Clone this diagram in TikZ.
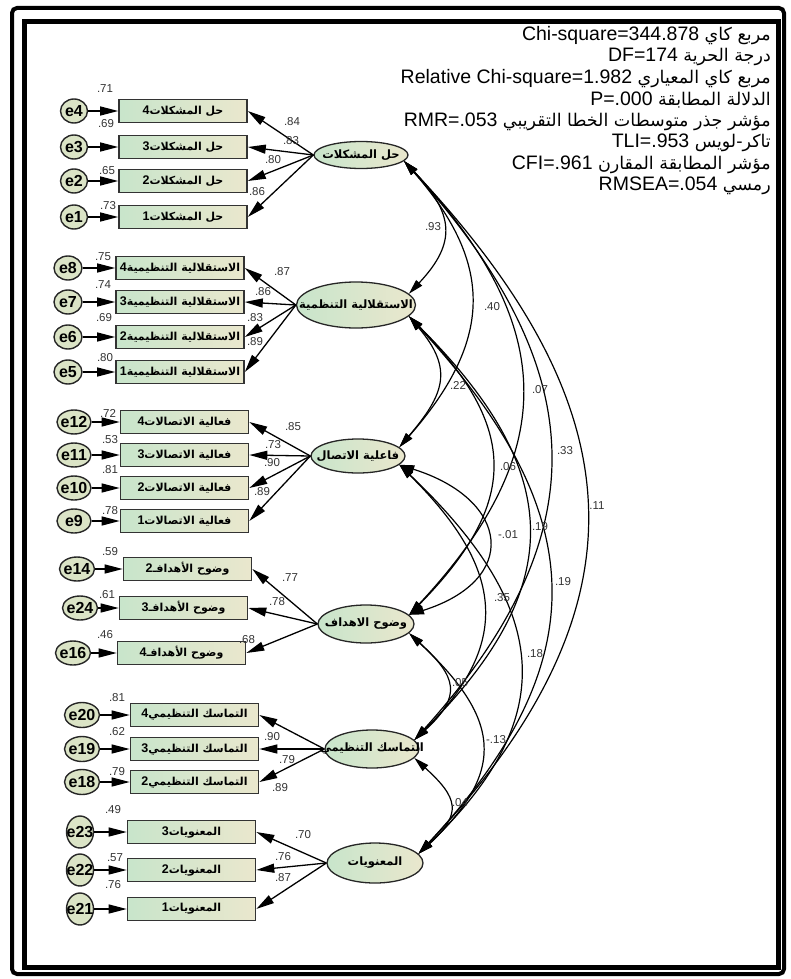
\documentclass[tikz,border=0pt]{standalone}
\usepackage{fontspec}
\setmainfont{Liberation Sans}
\newfontfamily\arabicfont[Script=Arabic]{DejaVu Sans}
\TeXXeTstate=1
\usetikzlibrary{arrows.meta,shapes.geometric}
\definecolor{amosgreen}{RGB}{200,229,203}
\definecolor{amosbeige}{RGB}{234,231,205}
\definecolor{errfill}{RGB}{219,228,198}
\newcommand{\dg}[1]{{\fontsize{12.5}{12}\selectfont\bfseries #1}}

\begin{document}
\begin{tikzpicture}[x=1pt,y=-1pt,
    obs/.style={draw=black!80,line width=1.6pt,left color=amosgreen,right color=amosbeige,
      minimum width=128pt,minimum height=23pt,inner sep=0pt,font=\fontsize{11}{12}\selectfont},
    lat/.style={ellipse,draw=black!85,line width=1.3pt,left color=amosgreen,right color=amosbeige,inner sep=0pt},
    err/.style={ellipse,draw=black!85,line width=1.4pt,fill=errfill,inner sep=0pt},
    errtxt/.style={font=\fontsize{16}{18}\selectfont\bfseries,inner sep=0pt},
    lattxt/.style={font=\fontsize{11.5}{14}\selectfont,inner sep=0pt},
    num/.style={font=\fontsize{11.5}{12}\selectfont,text=black!80,inner sep=0pt},
    stat/.style={anchor=east,font=\fontsize{19.5}{20}\selectfont,inner sep=0pt},
    arr/.style={line width=1.3pt,-{Triangle[length=18pt,width=9pt]}},
    cov/.style={line width=1.2pt,{Triangle[length=15pt,width=8pt]}-{Triangle[length=15pt,width=8pt]}}]
\useasboundingbox (0,0) rectangle (790,979);

% frame
\draw[line width=4pt,rounded corners=5pt] (12,8) rectangle (784,974);
\draw[line width=4.5pt] (24.5,21.5) rectangle (778.5,967.5);

% fit indices
\node[stat] (fit1) at (771,36) {Chi-square=344.878 {\arabicfont\fontsize{17.5}{20}\selectfont\beginR مربع كاي\endR}};
\node[stat] (fit2) at (771,57.4) {DF=174 {\arabicfont\fontsize{17.5}{20}\selectfont\beginR درجة الحرية\endR}};
\node[stat] (fit3) at (771,78.8) {Relative Chi-square=1.982 {\arabicfont\fontsize{17.5}{20}\selectfont\beginR مربع كاي المعياري\endR}};
\node[stat] (fit4) at (771,100.2) {P=.000 {\arabicfont\fontsize{17.5}{20}\selectfont\beginR الدلالة المطابقة\endR}};
\node[stat] (fit5) at (771,121.6) {RMR=.053 {\arabicfont\fontsize{17.5}{20}\selectfont\beginR مؤشر جذر متوسطات الخطا التقريبي\endR}};
\node[stat] (fit6) at (771,143) {TLI=.953 {\arabicfont\fontsize{17.5}{20}\selectfont\beginR تاكر{-}لويس\endR}};
\node[stat] (fit7) at (771,164.4) {CFI=.961 {\arabicfont\fontsize{17.5}{20}\selectfont\beginR مؤشر المطابقة المقارن\endR}};
\node[stat] (fit8) at (771,185.8) {RMSEA=.054 {\arabicfont\fontsize{17.5}{20}\selectfont\beginR رمسي\endR}};

% problem solving
\node[lat,minimum width=94pt,minimum height=27pt,
  label={[lattxt]center:{\arabicfont\bfseries\beginR حل المشكلات\endR}}] (pro) at (361,155) {};
\foreach \d/\ee/\y in {4/4/111,3/3/147,2/2/181,1/1/217}{
  \node[obs] (pro\d) at (183,\y) {\dg{\d}{\arabicfont\bfseries\beginR حل المشكلات\endR}};
  \node[err,minimum width=27pt,minimum height=24pt,label={[errtxt]center:e\ee}] (e\ee) at (74,\y) {};
  \draw[arr] (e\ee) -- (pro\d);
  \draw[arr] (pro.west) -- (pro\d.east);
}

% autonomy
\node[lat,minimum width=119pt,minimum height=46pt,
  label={[lattxt]center:{\arabicfont\bfseries\beginR الاستقلالية التنظمية\endR}}] (aut) at (356,305) {};
\foreach \d/\ee/\y in {4/8/268,3/7/302,2/6/337,1/5/372}{
  \node[obs] (aut\d) at (180,\y) {\dg{\d}{\arabicfont\bfseries\beginR الاستقلالية التنظيمية\endR}};
  \node[err,minimum width=28pt,minimum height=24pt,label={[errtxt]center:e\ee}] (e\ee) at (68,\y) {};
  \draw[arr] (e\ee) -- (aut\d);
  \draw[arr] (aut.west) -- (aut\d.east);
}

% communication
\node[lat,minimum width=94pt,minimum height=34pt,
  label={[lattxt]center:{\arabicfont\bfseries\beginR فاعلية الاتصال\endR}}] (com) at (358,456) {};
\foreach \d/\ee/\y in {4/12/422,3/11/455,2/10/488,1/9/521}{
  \node[obs] (com\d) at (184.5,\y) {\dg{\d}{\arabicfont\bfseries\beginR فعالية الاتصالات\endR}};
  \node[err,minimum width=34pt,minimum height=24pt,label={[errtxt]center:e\ee}] (e\ee) at (74,\y) {};
  \draw[arr] (e\ee) -- (com\d);
  \draw[arr] (com.west) -- (com\d.east);
}

% goals
\node[lat,minimum width=96pt,minimum height=38pt,
  label={[lattxt]center:{\arabicfont\bfseries\beginR وضوح الاهداف\endR}}] (goal) at (366,624) {};
\foreach \d/\ee/\x/\ex/\y in {2/14/187.5/77/569,3/24/183.5/80/608,4/16/181.5/73/653}{
  \node[obs] (goal\d) at (\x,\y) {\dg{\d}{\arabicfont\bfseries\beginR وضوح الأهدافـ\endR}};
  \node[err,minimum width=35pt,minimum height=24pt,label={[errtxt]center:e\ee}] (e\ee) at (\ex,\y) {};
  \draw[arr] (e\ee) -- (goal\d);
  \draw[arr] (goal.west) -- (goal\d.east);
}

% cohesion
\node[lat,minimum width=94pt,minimum height=38pt,
  label={[lattxt]center:{\arabicfont\bfseries\beginR التماسك التنظيمي\endR}}] (coh) at (372,749) {};
\foreach \d/\ee/\y in {4/20/715,3/19/749,2/18/782}{
  \node[obs] (coh\d) at (194.5,\y) {\dg{\d}{\arabicfont\bfseries\beginR التماسك التنظيمي\endR}};
  \node[err,minimum width=35pt,minimum height=25pt,label={[errtxt]center:e\ee}] (e\ee) at (82,\y) {};
  \draw[arr] (e\ee) -- (coh\d);
  \draw[arr] (coh.west) -- (coh\d.east);
}

% morale
\node[lat,minimum width=96pt,minimum height=40pt,
  label={[lattxt]center:{\arabicfont\bfseries\beginR المعنويات\endR}}] (mor) at (375,863) {};
\foreach \d/\ee/\y in {3/23/832,2/22/870,1/21/909}{
  \node[obs] (mor\d) at (191.5,\y) {\dg{\d}{\arabicfont\bfseries\beginR المعنويات\endR}};
  \node[err,minimum width=27pt,minimum height=32pt,label={[errtxt]center:e\ee}] (e\ee) at (80,\y) {};
  \draw[arr] (e\ee) -- (mor\d);
  \draw[arr] (mor.west) -- (mor\d.east);
}

% covariances
\foreach \a/\b/\k/\m/\sa/\sb in {pro/aut/49/52/-8/12, pro/com/92/105/-8/12, pro/goal/153/164/-8/12,
    pro/coh/187/208/-8/12, pro/mor/233/248/-8/12, aut/com/45/53/-12/12, aut/goal/110/112/-12/12,
    aut/coh/155/155/-12/12, aut/mor/181/195/-12/12, com/goal/111/35/-12/12, com/coh/101/100/-12/12,
    com/mor/147/140/-12/12, goal/coh/48/44/-12/12, goal/mor/90/84/-12/12, coh/mor/44/40/-12/12}
  \draw[cov] (\a.\sa) .. controls +(\k,\m) and +(\k,-\m) .. (\b.\sb);

% estimates
\foreach \t/\x/\y [count=\i] in {.71/105/89,.69/106/124,.65/107/171,.73/108/206,
    .84/292/122,.83/291/141,.80/273/160,.86/257/192,
    .75/103/257,.74/103/285,.69/104/318,.80/105/358,
    .87/282/272,.86/263/292,.83/255/318,.89/255/342,
    .72/108/413,.53/110/440,.81/110/470,.78/110/511,
    .85/293/427,.73/273/445,.90/272/463,.89/262/492,
    .59/110/552,.61/107/595,.46/105/635,.77/290/578,.78/277/602,.68/247/640,
    .81/117/698,.62/117/732,.79/117/772,.90/272/737,.79/287/760,.89/280/788,
    .49/113/810,.57/115/858,.76/113/885,.70/303/835,.76/283/857,.87/283/878,
    .93/433/227,.40/492/307,.22/458/385,.07/540/390,.06/508/467,.33/565/451,
    .11/597/506,-.01/508/535,.19/540/527,.19/563/582,.35/502/598,.18/535/654,
    .05/460/683,-.13/496/740,.04/460/803}
  \node[num] (n\i) at (\x,\y) {\t};
\end{tikzpicture}
\end{document}
